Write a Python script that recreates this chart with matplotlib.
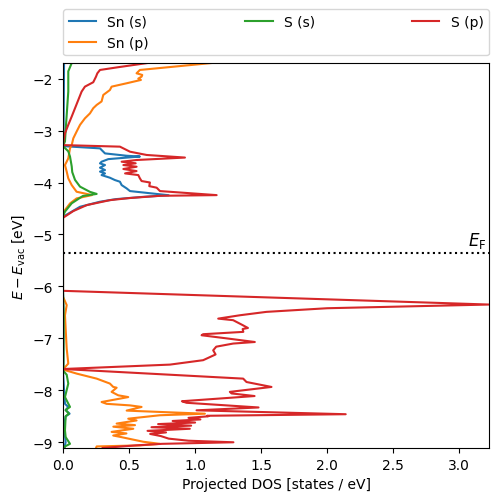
import matplotlib
matplotlib.use("Agg")
import matplotlib.pyplot as plt
import numpy as np

# ---- data: (energy [eV], projected DOS) ----
e_sn_s = [-1.70, -2.5, -3.28, -3.30, -3.343, -3.44, -3.485, -3.50, -3.55, -3.60, -3.632, -3.664,
          -3.715, -3.76, -3.79, -3.825, -3.857, -3.908, -3.953, -3.985, -4.05, -4.114, -4.165,
          -4.245, -4.276, -4.32, -4.37, -4.467, -4.60, -4.66, -6.08, -6.5, -7.6, -7.62, -8.0, -8.26,
          -8.32, -8.38, -8.45, -8.50, -8.58, -8.80, -9.00, -9.11]
dos_sn_s = [0.008, 0.006, 0.003, 0.0, 0.28, 0.318, 0.482, 0.582, 0.343, 0.292, 0.28, 0.318,
            0.28, 0.318, 0.28, 0.318, 0.292, 0.355, 0.393, 0.431, 0.444, 0.482, 0.507,
            0.80, 0.608, 0.40, 0.28, 0.129, 0.04, 0.0, 0.0, 0.004, 0.003, 0.0, 0.008, 0.015,
            0.04, 0.02, 0.05, 0.02, 0.015, 0.012, 0.02, 0.01]

e_sn_p = [-1.70, -1.834, -1.898, -1.93, -1.962, -2.0, -2.026, -2.09, -2.155, -2.22, -2.315,
          -2.44, -2.507, -2.57, -2.67, -2.765, -2.89, -3.02, -3.15, -3.28, -3.343, -3.536,
          -3.664, -3.79, -3.92, -4.05, -4.178, -4.242, -4.306, -4.403, -4.53, -4.66, -6.08,
          -6.20, -6.36, -6.555, -6.81, -7.196, -7.485, -7.60, -7.678, -7.775, -7.87, -7.934,
          -7.95, -8.03, -8.096, -8.13, -8.16, -8.225, -8.26, -8.29, -8.32, -8.39, -8.40,
          -8.45, -8.48, -8.546, -8.58, -8.64, -8.67, -8.70, -8.74, -8.80, -8.83, -8.87,
          -8.90, -8.99, -9.03, -9.06, -9.08, -9.11]
dos_sn_p = [1.125, 0.582, 0.557, 0.6, 0.595, 0.57, 0.59, 0.482, 0.368, 0.355, 0.305,
            0.292, 0.255, 0.229, 0.204, 0.166, 0.129, 0.103, 0.078, 0.066, 0.053, 0.04,
            0.015, 0.028, 0.04, 0.066, 0.103, 0.22, 0.103, 0.053, 0.015, 0.0, 0.0,
            0.0, 0.028, 0.015, 0.02, 0.028, 0.04, 0.0, 0.103, 0.255, 0.355, 0.38,
            0.406, 0.368, 0.418, 0.494, 0.431, 0.292, 0.33, 0.507, 0.595, 0.482, 0.57,
            1.074, 0.733, 0.494, 0.557, 0.406, 0.545, 0.381, 0.532, 0.368, 0.48, 0.38,
            0.44, 0.608, 0.733, 0.582, 0.255, 0.25]

e_s_s = [-1.70, -1.86, -2.25, -2.7, -3.0, -3.21, -3.30, -3.40, -3.50, -3.69, -3.80, -3.95,
         -4.08, -4.18, -4.22, -4.26, -4.40, -4.56, -4.64, -6.08, -6.6, -7.6, -7.62, -7.70,
         -7.87, -8.13, -8.32, -8.38, -8.45, -8.50, -8.77, -8.90, -9.03, -9.08, -9.11]
dos_s_s = [0.066, 0.04, 0.04, 0.028, 0.02, 0.015, 0.0, 0.04, 0.053, 0.066, 0.07, 0.091,
           0.129, 0.204, 0.255, 0.15, 0.066, 0.015, 0.0, 0.0, 0.005, 0.003, 0.0, 0.028,
           0.04, 0.015, 0.053, 0.02, 0.045, 0.02, 0.015, 0.02, 0.053, 0.015, 0.01]

e_s_p = [-1.70, -1.78, -1.834, -1.898, -1.962, -2.07, -2.155, -2.25, -2.41, -2.57, -2.73,
         -2.89, -3.054, -3.215, -3.28, -3.31, -3.407, -3.47, -3.52, -3.567, -3.60, -3.63,
         -3.664, -3.696, -3.74, -3.78, -3.825, -3.857, -3.92, -3.972, -4.0, -4.07, -4.10,
         -4.165, -4.243, -4.256, -4.30, -4.34, -4.435, -4.55, -4.68, -6.085, -6.349, -6.42, -6.49,
         -6.555, -6.62, -6.65, -6.745, -6.80, -6.82, -6.875, -6.92, -6.94, -7.0, -7.07,
         -7.10, -7.16, -7.23, -7.31, -7.42, -7.505, -7.59, -7.775, -7.84, -7.935, -8.03,
         -8.06, -8.11, -8.21, -8.24, -8.33, -8.385, -8.46, -8.49, -8.50, -8.53, -8.56,
         -8.59, -8.62, -8.65, -8.68, -8.71, -8.74, -8.78, -8.81, -8.84, -8.88, -8.93,
         -8.97, -9.00, -9.03, -9.06, -9.09, -9.11]
dos_s_p = [0.64, 0.42, 0.28, 0.26, 0.25, 0.229, 0.166, 0.141, 0.116, 0.091, 0.066,
           0.04, 0.015, 0.003, 0.0, 0.431, 0.507, 0.633, 0.923, 0.557, 0.444, 0.55,
           0.457, 0.557, 0.457, 0.557, 0.47, 0.57, 0.582, 0.595, 0.658, 0.653, 0.709,
           0.734, 1.163, 0.734, 0.50, 0.355, 0.18, 0.078, 0.0, 0.0, 3.225, 2.0, 1.54,
           1.34, 1.175, 1.288, 1.36, 1.40, 1.36, 1.365, 1.061, 1.049, 1.238, 1.452,
           1.288, 1.16, 1.137, 1.155, 1.061, 0.81, 0.0, 1.364, 1.389, 1.578, 1.263,
           1.276, 1.45, 0.90, 0.935, 1.48, 1.011, 2.14, 1.09, 1.10, 0.95, 1.04,
           0.83, 1.0, 0.72, 0.97, 0.67, 0.96, 0.64, 0.78, 0.66, 0.74, 0.80,
           0.95, 1.29, 0.75, 0.55, 0.40, 0.30]

labels = ["Sn (s)", "Sn (p)", "S (s)", "S (p)"]
colors = ["#1f77b4", "#ff7f0e", "#2ca02c", "#d62728"]
E_F = -5.35
y_min, y_max = -9.11, -1.70

fig = plt.figure(figsize=(4.98, 5.02), dpi=100)
ax = fig.add_axes([0.1265, 0.1056, 0.8555, 0.7669])

series = [(e_sn_s, dos_sn_s), (e_sn_p, dos_sn_p), (e_s_s, dos_s_s), (e_s_p, dos_s_p)]
for (e, d), lab, c in zip(series, labels, colors):
    ax.plot(d, e, color=c, label=lab, lw=1.5)

xmax = max(max(d) for _, d in series)
ax.axhline(E_F, color="k", ls=":", lw=1.5)
ax.text(xmax * 0.995, E_F + 0.05, r"$E_\mathrm{F}$", ha="right", va="bottom", fontsize=12)

ax.set_xlim(0, xmax)
ax.set_ylim(y_min, y_max)
ax.set_xlabel("Projected DOS [states / eV]")
ax.set_ylabel(r"$E - E_\mathrm{vac}$ [eV]")
ax.legend(bbox_to_anchor=(0., 1.02, 1., .102), loc="lower left", ncol=3,
          mode="expand", borderaxespad=0.)

fig.savefig("out.png", dpi=100)
